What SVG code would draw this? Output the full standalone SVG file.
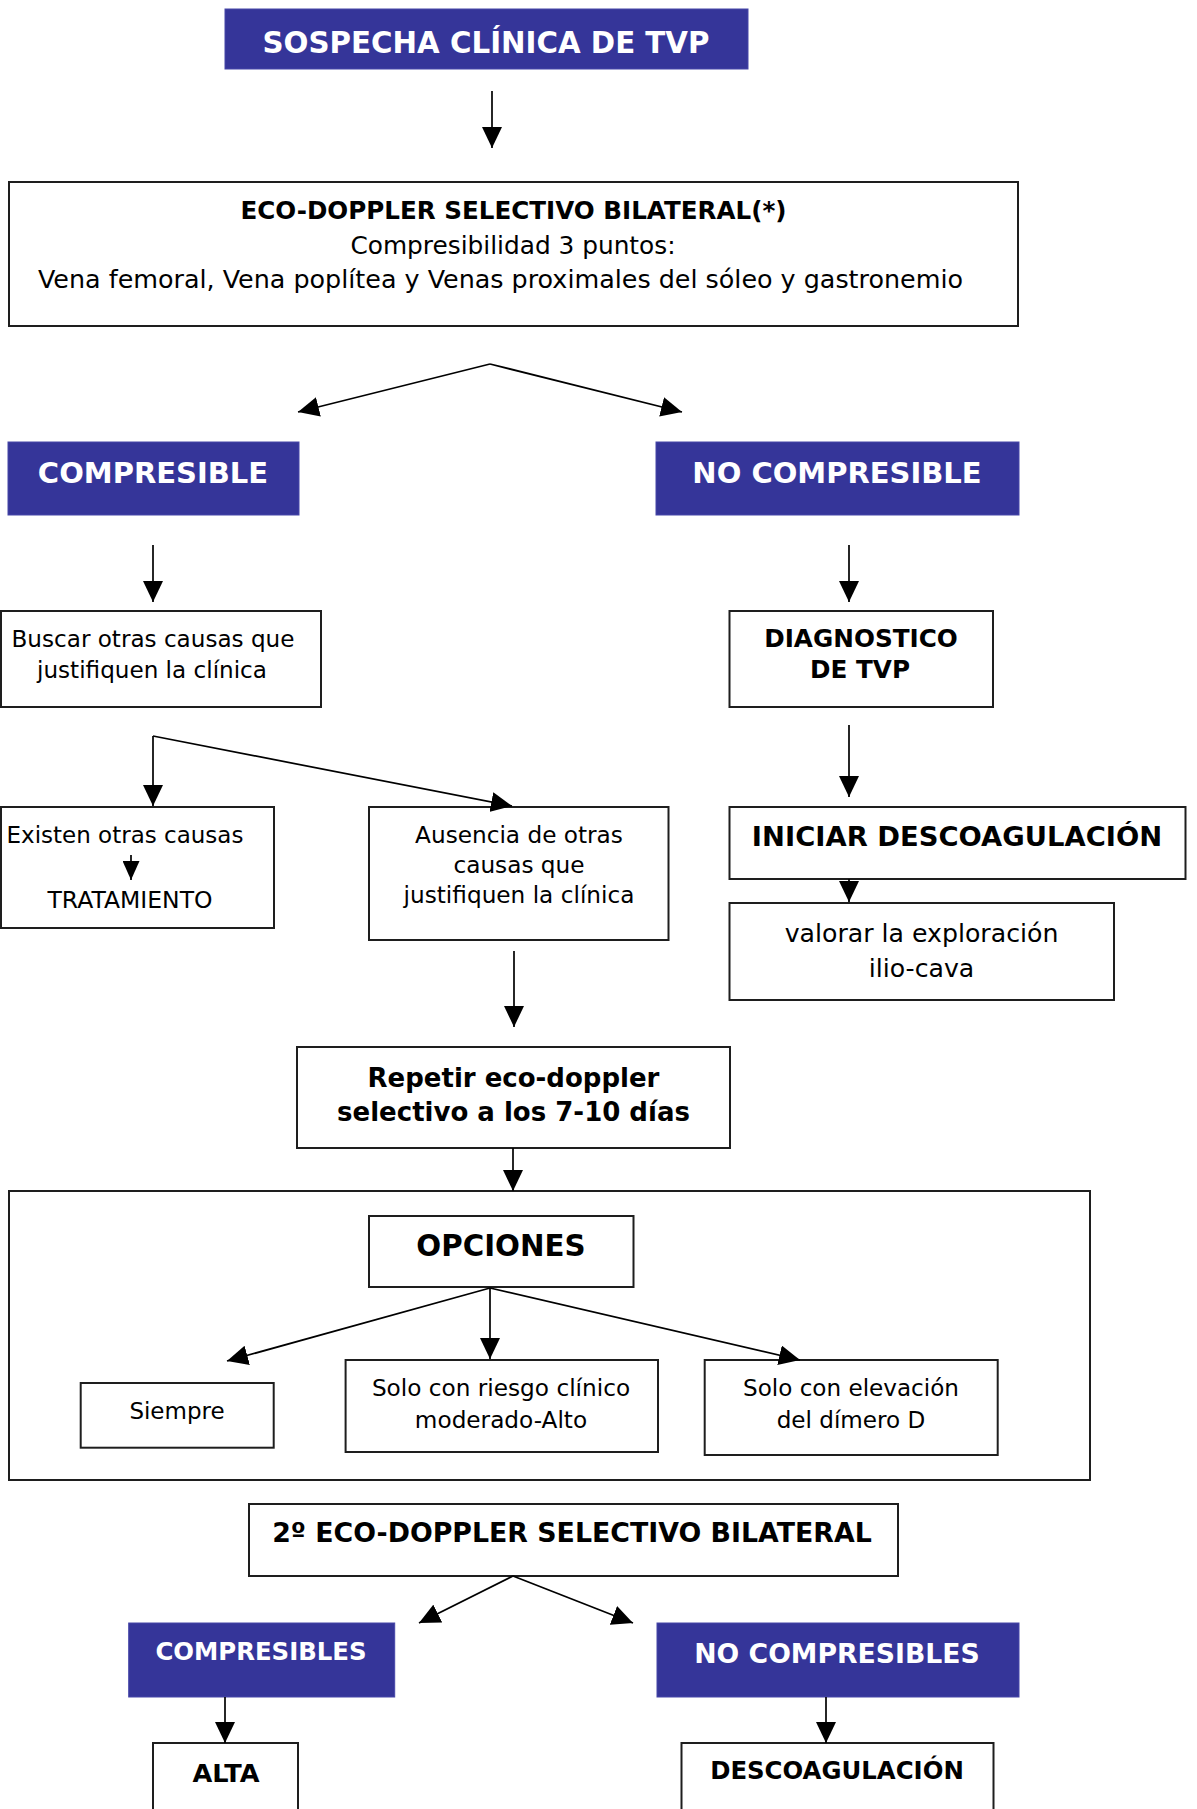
<svg xmlns="http://www.w3.org/2000/svg" width="1197" height="1809" viewBox="0 0 1197 1809">
<style>
.box{fill:#fff;stroke:#1e1e1e;stroke-width:2}
.frame{fill:none;stroke:#1e1e1e;stroke-width:2}
.blue{fill:#353599;stroke:#4646a8;stroke-width:1}
.t{font-family:"DejaVu Sans",Verdana,sans-serif;fill:#000;text-anchor:middle}
.b{font-weight:bold}
.w{fill:#fff}
.c{fill:none;stroke:#000;stroke-width:1.7}
</style>
<defs>
<marker id="ah" markerUnits="userSpaceOnUse" markerWidth="21" markerHeight="20" refX="21" refY="10" orient="auto">
<path d="M0,0 L21,10 L0,20 z" fill="#000"/>
</marker>
<marker id="ahs" markerUnits="userSpaceOnUse" markerWidth="19" markerHeight="17" refX="19" refY="8.5" orient="auto">
<path d="M0,0 L19,8.5 L0,17 z" fill="#000"/>
</marker>
</defs>
<rect width="1197" height="1809" fill="#fff"/>

<g id="sospecha">
<rect class="blue" x="225" y="9" width="523" height="60"/>
<text class="t b w" x="486" y="52.5" font-size="29.3">SOSPECHA CLÍNICA DE TVP</text>
</g>

<g id="ecodoppler">
<rect class="box" x="9" y="182" width="1009" height="144"/>
<text class="t b" x="513.5" y="219" font-size="24.6">ECO-DOPPLER SELECTIVO BILATERAL(*)</text>
<text class="t" x="513" y="254" font-size="24.8">Compresibilidad 3 puntos:</text>
<text class="t" x="500.5" y="288" font-size="25.4">Vena femoral, Vena poplítea y Venas proximales del sóleo y gastronemio</text>
</g>

<g id="compresible">
<rect class="blue" x="8" y="442" width="291" height="73"/>
<text class="t b w" x="153" y="483" font-size="29">COMPRESIBLE</text>
</g>

<g id="nocompresible">
<rect class="blue" x="656" y="442" width="363" height="73"/>
<text class="t b w" x="837" y="483" font-size="29">NO COMPRESIBLE</text>
</g>

<g id="buscar">
<rect class="box" x="1" y="611" width="320" height="96"/>
<text class="t" x="153" y="647" font-size="23.1">Buscar otras causas que</text>
<text class="t" x="152" y="678" font-size="23.1">justifiquen la clínica</text>
</g>

<g id="diagnostico">
<rect class="box" x="729.5" y="611" width="263.5" height="96"/>
<text class="t b" x="861" y="647" font-size="24.7">DIAGNOSTICO</text>
<text class="t b" x="860" y="678" font-size="24.7">DE TVP</text>
</g>

<g id="existen">
<rect class="box" x="1" y="807" width="273" height="121"/>
<text class="t" x="125" y="843" font-size="23">Existen otras causas</text>
<text class="t" x="130" y="908" font-size="23.5">TRATAMIENTO</text>
</g>

<g id="ausencia">
<rect class="box" x="369" y="807" width="299.5" height="133"/>
<text class="t" x="519" y="843" font-size="23.2">Ausencia de otras</text>
<text class="t" x="519" y="873" font-size="23.2">causas que</text>
<text class="t" x="519" y="903" font-size="23.2">justifiquen la clínica</text>
</g>

<g id="iniciar">
<rect class="box" x="729.5" y="807" width="456" height="72"/>
<text class="t b" x="957" y="846" font-size="27.4">INICIAR DESCOAGULACIÓN</text>
</g>

<g id="valorar">
<rect class="box" x="729.5" y="903" width="384.5" height="97"/>
<text class="t" x="921.5" y="942" font-size="25.2">valorar la exploración</text>
<text class="t" x="921.5" y="977" font-size="25.2">ilio-cava</text>
</g>

<g id="repetir">
<rect class="box" x="297" y="1047" width="433" height="101"/>
<text class="t b" x="513.5" y="1087" font-size="26">Repetir eco-doppler</text>
<text class="t b" x="513.5" y="1121" font-size="26">selectivo a los 7-10 días</text>
</g>

<g id="opciones-container">
<rect class="frame" x="9" y="1191" width="1081" height="289"/>
</g>

<g id="opciones">
<rect class="box" x="369" y="1216" width="264.5" height="71"/>
<text class="t b" x="501" y="1256" font-size="29.3">OPCIONES</text>
</g>

<g id="siempre">
<rect class="box" x="80.7" y="1383" width="193" height="64.7"/>
<text class="t" x="177" y="1419" font-size="23">Siempre</text>
</g>

<g id="riesgo">
<rect class="box" x="345.6" y="1360" width="312.4" height="92"/>
<text class="t" x="501" y="1396" font-size="23.2">Solo con riesgo clínico</text>
<text class="t" x="501" y="1428" font-size="23.2">moderado-Alto</text>
</g>

<g id="dimero">
<rect class="box" x="704.7" y="1360" width="293" height="95"/>
<text class="t" x="851" y="1396" font-size="23.1">Solo con elevación</text>
<text class="t" x="851" y="1428" font-size="23.1">del dímero D</text>
</g>

<g id="ecodoppler2">
<rect class="box" x="249" y="1504" width="649" height="72"/>
<text class="t b" x="572" y="1542" font-size="26.8">2º ECO-DOPPLER SELECTIVO BILATERAL</text>
</g>

<g id="compresibles">
<rect class="blue" x="128.7" y="1623" width="266" height="74"/>
<text class="t b w" x="261" y="1660" font-size="24.4">COMPRESIBLES</text>
</g>

<g id="nocompresibles">
<rect class="blue" x="657" y="1623" width="362" height="74"/>
<text class="t b w" x="837" y="1663" font-size="26.7">NO COMPRESIBLES</text>
</g>

<g id="alta">
<rect class="box" x="153" y="1743" width="145" height="80"/>
<text class="t b" x="226" y="1782" font-size="25.6">ALTA</text>
</g>

<g id="descoagulacion">
<rect class="box" x="681.5" y="1743" width="312" height="80"/>
<text class="t b" x="837" y="1779" font-size="24.4">DESCOAGULACIÓN</text>
</g>

<g id="connectors">
<path class="c" marker-end="url(#ah)" d="M492,91 L492,148"/>
<path class="c" marker-end="url(#ah)" d="M490,364 L298,412"/>
<path class="c" marker-end="url(#ah)" d="M490,364 L682,412"/>
<path class="c" marker-end="url(#ah)" d="M153,545 L153,602"/>
<path class="c" marker-end="url(#ah)" d="M849,545 L849,602"/>
<path class="c" marker-end="url(#ah)" d="M153,736 L153,806"/>
<path class="c" marker-end="url(#ah)" d="M153,736 L512,806"/>
<path class="c" marker-end="url(#ah)" d="M849,725 L849,797"/>
<path class="c" marker-end="url(#ah)" d="M849,879 L849,902"/>
<path class="c" marker-end="url(#ahs)" d="M131,855 L131,880"/>
<path class="c" marker-end="url(#ah)" d="M514,951 L514,1027"/>
<path class="c" marker-end="url(#ah)" d="M513,1148 L513,1191"/>
<path class="c" marker-end="url(#ah)" d="M490,1288 L227,1361"/>
<path class="c" marker-end="url(#ah)" d="M490,1288 L490,1359"/>
<path class="c" marker-end="url(#ah)" d="M490,1288 L800,1360"/>
<path class="c" marker-end="url(#ah)" d="M513,1576 L419,1623"/>
<path class="c" marker-end="url(#ah)" d="M513,1576 L633,1623"/>
<path class="c" marker-end="url(#ah)" d="M225,1697 L225,1743"/>
<path class="c" marker-end="url(#ah)" d="M826,1697 L826,1743"/>
</g>
</svg>
